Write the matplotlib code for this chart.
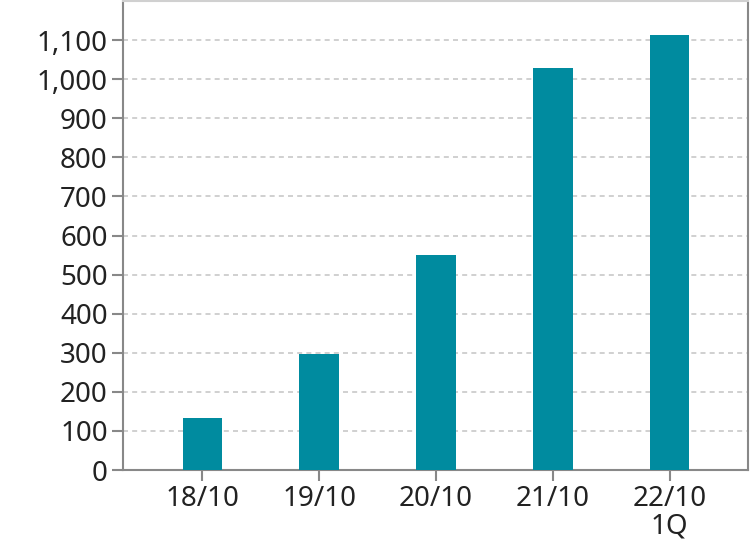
import matplotlib
matplotlib.use("Agg")
import matplotlib.pyplot as plt
from matplotlib.ticker import FuncFormatter

categories = ["18/10", "19/10", "20/10", "21/10", "22/10\n1Q"]
values = [134, 298, 551, 1028, 1112]
yticks = list(range(0, 1200, 100))

plt.rcParams['font.family'] = ['Noto Sans', 'Noto Sans CJK JP', 'DejaVu Sans']

fig = plt.figure(figsize=(7.5, 5.51), dpi=100)
ax = fig.add_axes([0.164, 0.147, 0.833, 0.851])

x = list(range(len(categories)))
ax.bar(x, values, width=0.34, color="#008b9f", zorder=3)

ax.set_xlim(-0.68, 4.67)
ax.set_ylim(0, 1200)
ax.set_yticks(yticks)
ax.yaxis.set_major_formatter(FuncFormatter(lambda v, p: f"{int(v):,}"))
ax.set_xticks(x)
ax.set_xticklabels(categories, linespacing=0.95)

ax.grid(axis="y", color="#c8c8c8", linestyle=(0, (3, 2.5)), linewidth=1.2, zorder=0)
for s in ["left", "bottom", "right"]:
    ax.spines[s].set_color("#888888")
    ax.spines[s].set_linewidth(1.5)
ax.spines["top"].set_color("#d0d0d0")
ax.spines["top"].set_linewidth(1.5)

ax.tick_params(axis="both", colors="#888888", labelcolor="#222222", labelsize=20, width=1.5)
ax.tick_params(axis="y", length=8, pad=3)
ax.tick_params(axis="x", length=8, pad=3)
for lab in ax.get_xticklabels() + ax.get_yticklabels():
    lab.set_fontweight("light")

fig.savefig("out.png", dpi=100)
